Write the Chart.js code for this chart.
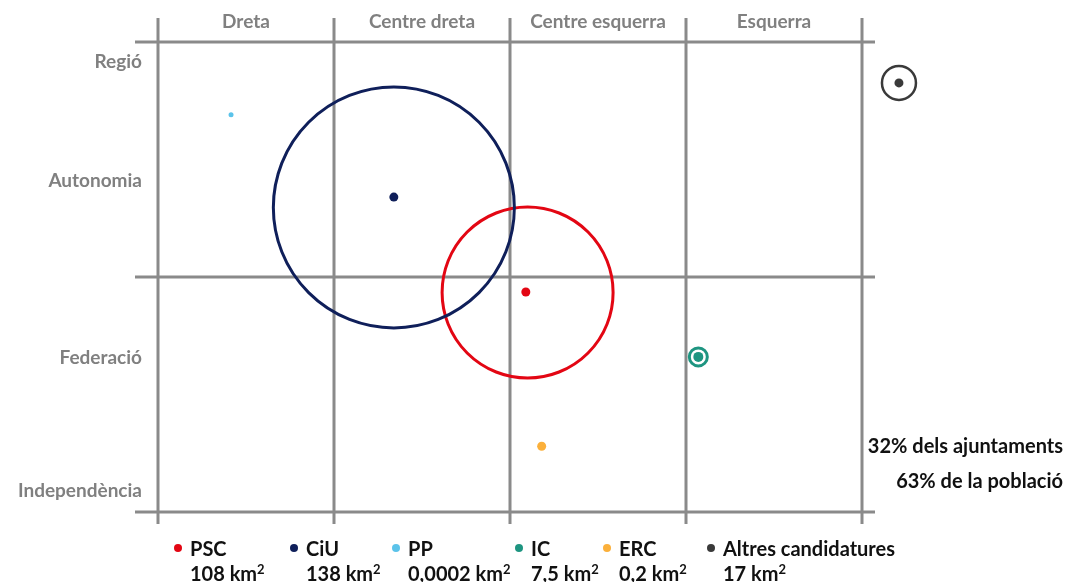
<!DOCTYPE html>
<html>
<head>
<meta charset="utf-8">
<script src="https://cdn.jsdelivr.net/npm/chart.js@4.4.1/dist/chart.umd.min.js"></script>
<style>
  body { margin: 0; background: #fff; font-family: Lato, "Open Sans", sans-serif; }
  #wrap { position: relative; width: 1068px; height: 582px; overflow: hidden; }
  .leg { position: absolute; top: 536px; font-weight: bold; font-size: 20px; color: #111; line-height: 25px; }
  .leg .dot { position: absolute; left: 0; top: 8px; width: 8px; height: 8px; border-radius: 50%; }
  .leg .txt { margin-left: 16px; white-space: nowrap; }
  .leg sup { font-size: 13px; vertical-align: 7px; line-height: 0; }
  #note { position: absolute; right: 5px; top: 428px; text-align: right; font-weight: bold; font-size: 20px; color: #111; line-height: 35px; }
</style>
</head>
<body>
<div id="wrap">
  <canvas id="chart-area"></canvas>
  <div id="legend"></div>
  <div id="note">32% dels ajuntaments<br>63% de la població</div>
</div>
<script>
// eixos
var xCategories = ['Dreta', 'Centre dreta', 'Centre esquerra', 'Esquerra'];
var yCategories = ['Independència', 'Federació', 'Autonomia', 'Regió'];
var yTickValues = [0.45, 3.28, 7.04, 9.57];

// partits
var parties = ['PSC', 'CiU', 'PP', 'IC', 'ERC', 'Altres candidatures'];
var areas = ['108', '138', '0,0002', '7,5', '0,2', '17'];
var dotX = [2.09, 1.34, 0.415, 3.07, 2.18, 4.21];
var dotY = [4.68, 6.70, 8.45, 3.30, 1.40, 9.13];
var circleX = [2.10, 1.34, null, 3.07, null, 4.21];
var circleY = [4.67, 6.48, null, 3.30, null, 9.13];
var circleR = [85.5, 120.5, 0, 9, 0, 17];

var colors = ['#e30613', '#0f1f5a', '#5bc3ea', '#1e9581', '#fbb03b', '#3a3a3a'];
var dotSize = [4.5, 4.5, 2.5, 5, 4.5, 4.5];
var ringWidth = [3, 3, 0, 3, 0, 2.5];
var legendLeft = [174, 290, 392, 515, 603, 707];

var gridLines = {
  id: 'gridLines',
  beforeDatasetsDraw: function(chart) {
    var ctx = chart.ctx, x = chart.scales.x, y = chart.scales.y;
    var top = y.getPixelForValue(10), bottom = y.getPixelForValue(0);
    var left = x.getPixelForValue(0), right = x.getPixelForValue(4);
    ctx.save();
    ctx.strokeStyle = '#8a8a8a';
    ctx.lineWidth = 3;
    ctx.beginPath();
    [0, 1, 2, 3, 4].forEach(function(v) {
      var px = x.getPixelForValue(v);
      ctx.moveTo(px, top - 24);
      ctx.lineTo(px, bottom + 12);
    });
    [0, 5, 10].forEach(function(v) {
      var py = y.getPixelForValue(v);
      ctx.moveTo(left - 23, py);
      ctx.lineTo(right + 13, py);
    });
    ctx.stroke();
    ctx.restore();
  }
};

var rings = [], ringColors = [], ringW = [];
for (var i = 0; i < parties.length; i++) {
  if (circleX[i] === null) continue;
  rings.push({x: circleX[i], y: circleY[i], r: circleR[i]});
  ringColors.push(colors[i]);
  ringW.push(ringWidth[i]);
}

var config = {
  type: 'bubble',
  data: {
    datasets: [{
      label: 'superfície',
      data: rings,
      backgroundColor: 'rgba(0,0,0,0)',
      borderColor: ringColors,
      borderWidth: ringW,
      hoverBorderWidth: ringW,
      clip: false
    }, {
      type: 'scatter',
      label: 'posició',
      data: dotX.map(function(v, i) { return {x: v, y: dotY[i]}; }),
      backgroundColor: colors,
      borderWidth: 0,
      pointRadius: dotSize,
      pointHoverRadius: dotSize,
      clip: false
    }]
  },
  options: {
    responsive: true,
    maintainAspectRatio: false,
    animation: false,
    // x va de 0 a 4.5 perquè "Altres" queda fora de la quadrícula
    layout: { autoPadding: false, padding: { left: 0, top: 0, right: 118, bottom: 70 } },
    plugins: { legend: { display: false }, tooltip: { enabled: false } },
    scales: {
      x: {
        type: 'linear',
        position: 'top',
        min: 0,
        max: 4.5,
        afterBuildTicks: function(s) {
          s.ticks = xCategories.map(function(c, i) { return {value: i + 0.5}; });
        },
        afterFit: function(s) { s.height = 42; },
        grid: { display: false, drawTicks: false },
        border: { display: false },
        ticks: {
          autoSkip: false,
          maxRotation: 0,
          padding: 9,
          color: '#808080',
          font: { family: 'Lato', size: 19, weight: 'bold' },
          callback: function(v) { return xCategories[Math.floor(v)]; }
        }
      },
      y: {
        type: 'linear',
        min: 0,
        max: 10,
        afterBuildTicks: function(s) {
          s.ticks = yTickValues.map(function(v) { return {value: v}; });
        },
        afterFit: function(s) { s.width = 158; },
        grid: { display: false, drawTicks: false },
        border: { display: false },
        ticks: {
          autoSkip: false,
          padding: 16,
          color: '#808080',
          font: { family: 'Lato', size: 19, weight: 'bold' },
          callback: function(v, i) { return yCategories[i]; }
        }
      }
    }
  },
  plugins: [gridLines]
};

window.onload = function() {
  var ctx = document.getElementById('chart-area').getContext('2d');
  window.myChart = new Chart(ctx, config);

  var html = '';
  for (var i = 0; i < parties.length; i++) {
    html += '<div class="leg" style="left:' + legendLeft[i] + 'px">' +
      '<span class="dot" style="background:' + colors[i] + '"></span>' +
      '<div class="txt">' + parties[i] + '<br>' + areas[i] + ' km<sup>2</sup></div></div>';
  }
  document.getElementById('legend').innerHTML = html;
};
</script>
</body>
</html>
